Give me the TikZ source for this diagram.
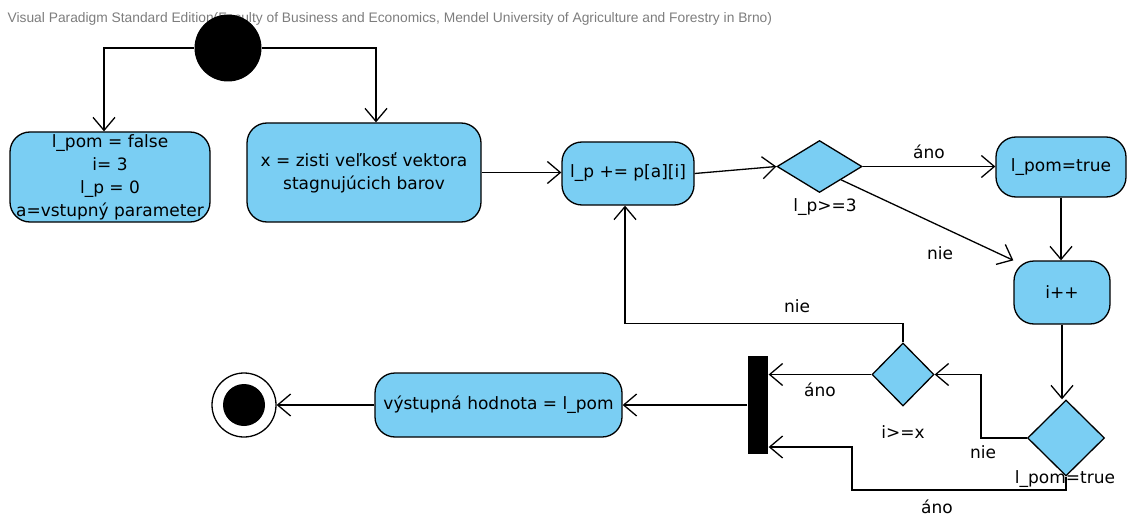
\documentclass[tikz,border=0pt]{standalone}
\usepackage{fontspec}
\setmainfont{DejaVu Sans}
\newfontfamily\hdrfont{Liberation Sans}
\usepackage{xcolor}
\usetikzlibrary{
  positioning,
  calc,
  arrows.meta,
  shapes.geometric
}
\definecolor{actblue}{RGB}{122,206,243}
\definecolor{hdrgray}{RGB}{125,125,125}

\begin{document}
\begin{tikzpicture}[x=1pt,y=-1pt,line width=1.3pt,
  font=\fontsize{17}{23}\selectfont,
  act/.style={draw,fill=actblue,rounded corners=20,align=center,inner sep=0pt},
  dec/.style={draw,fill=actblue,diamond,inner sep=0pt},
  arr/.style={-{Straight Barb[length=13pt,width=22pt]}}]
  \useasboundingbox (0,0) rectangle (1127,516);

  % 見出し
  \node[anchor=west,text=hdrgray,font=\hdrfont\fontsize{13.8}{15}\selectfont,inner sep=0pt] (T) at (7,19)
    {Visual Paradigm Standard Edition(Faculty of Business and Economics, Mendel University of Agriculture and Forestry in Brno)};

  % 開始・終了
  \node[circle,fill=black,minimum size=67,inner sep=0pt] (I) at (228,48) {};
  \node[circle,draw,fill=white,minimum size=64,inner sep=0pt] (Fin) at (244,405) {};
  \node[circle,fill=black,minimum size=42,inner sep=0pt] (FinIn) at (Fin) {};

  % アクション
  \node[act,minimum width=200,minimum height=90] (A) at (110,177)
    {l\_pom = false\\i= 3\\l\_p = 0\\a=vstupný parameter};
  \node[act,minimum width=234,minimum height=99] (B) at (364,172.5)
    {x = zisti veľkosť vektora\\stagnujúcich barov};
  \node[act,minimum width=132,minimum height=63] (C) at (628,173.5) {l\_p += p[a][i]};
  \node[act,minimum width=130,minimum height=60] (E) at (1061,167) {l\_pom=true};
  \node[act,minimum width=96,minimum height=63] (F) at (1062,292.5) {i++};
  \node[act,minimum width=247,minimum height=64] (G) at (498.5,405) {výstupná hodnota = l\_pom};

  % 分岐
  \node[dec,minimum width=85,minimum height=52] (D1) at (819.5,166.5) {};
  \node[dec,minimum width=62,minimum height=63] (D2) at (903,374.5) {};
  \node[dec,minimum width=77,minimum height=76] (D3) at (1066,438) {};
  \node (L1) at (825,207) {l\_p>=3};
  \node (L2) at (903,432) {i>=x};
  \node (L3) at (1065,479) {l\_pom=true};

  % 合流バー
  \node[fill=black,minimum width=20,minimum height=98,inner sep=0pt] (Bar) at (758,405) {};

  % 矢印
  \draw[arr] (I.west) -| ([xshift=-6]A.north);
  \draw[arr] (I.east) -| ([xshift=12]B.north);
  \draw[arr] (B.east) -- (B.east -| C.west);
  \draw[arr] (C.east) -- (D1.west);
  \draw[arr] (D1.east) -- node[above=4pt] (Y1) {áno} (D1.east -| E.west);
  \draw[arr] (D1.south east) -- (F.north west);
  \node (N1) at (940,253) {nie};
  \draw[arr] (E.south) -- (E.south |- F.north);
  \draw[arr] (F.south) -- (F.south |- D3.north);
  \draw[arr] (D3.west) -- ++(-46,0) |- (D2.east);
  \node (N2) at (983,452) {nie};
  \draw[arr] (D2.north) -- ++(0,-19) -| ([xshift=-3]C.south);
  \node (N3) at (797,306) {nie};
  \draw[arr] (D2.west) -- node[below=4pt] (Y2) {áno} (D2.west -| Bar.east);
  \draw[arr] (D3.south) |- (852,490) |- (Bar.east |- 0,447);
  \node (Y3) at (937,507) {áno};
  \draw[arr] (Bar.west) -- (G.east);
  \draw[arr] (G.west) -- (Fin.east);
\end{tikzpicture}
\end{document}
